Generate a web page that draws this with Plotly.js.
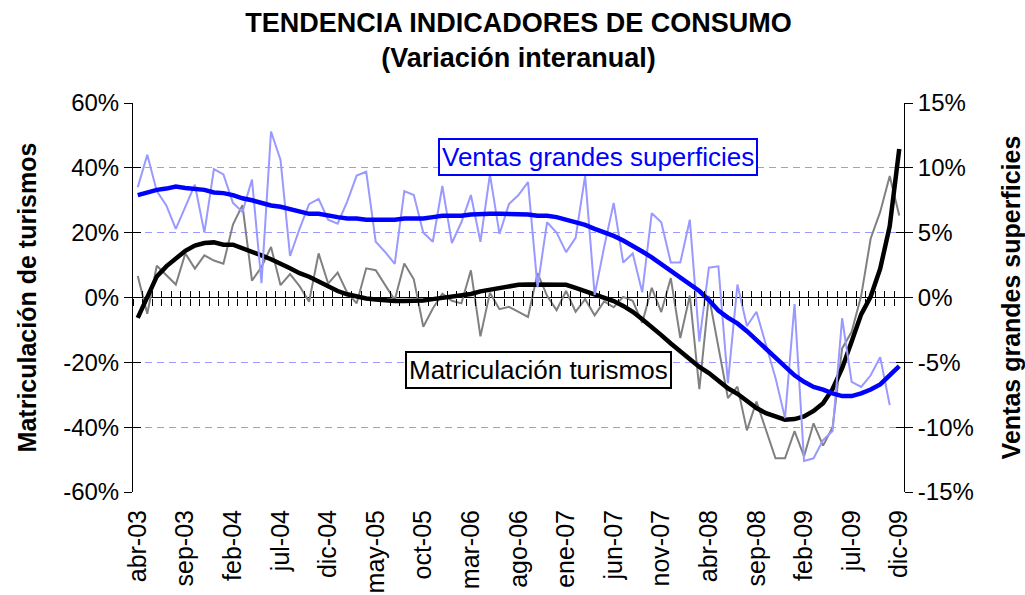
<!DOCTYPE html>
<html><head><meta charset="utf-8">
<script src="https://cdn.plot.ly/plotly-3.0.1.min.js"></script>
<style>html,body{margin:0;padding:0;background:#fff}#chart{width:1025px;height:595px}</style>
</head><body><div id="chart"></div>
<script>
const months = ["abr-03","may-03","jun-03","jul-03","ago-03","sep-03","oct-03","nov-03","dic-03",
"ene-04","feb-04","mar-04","abr-04","may-04","jun-04","jul-04","ago-04","sep-04","oct-04","nov-04","dic-04",
"ene-05","feb-05","mar-05","abr-05","may-05","jun-05","jul-05","ago-05","sep-05","oct-05","nov-05","dic-05",
"ene-06","feb-06","mar-06","abr-06","may-06","jun-06","jul-06","ago-06","sep-06","oct-06","nov-06","dic-06",
"ene-07","feb-07","mar-07","abr-07","may-07","jun-07","jul-07","ago-07","sep-07","oct-07","nov-07","dic-07",
"ene-08","feb-08","mar-08","abr-08","may-08","jun-08","jul-08","ago-08","sep-08","oct-08","nov-08","dic-08",
"ene-09","feb-09","mar-09","abr-09","may-09","jun-09","jul-09","ago-09","sep-09","oct-09","nov-09","dic-09"];

const tickLabels = ["abr-03","sep-03","feb-04","jul-04","dic-04","may-05","oct-05","mar-06","ago-06",
"ene-07","jun-07","nov-07","abr-08","sep-08","feb-09","jul-09","dic-09"];

// Matriculación turismos (left axis, %)
const matriculacion = [6.6,-5.0,9.8,6.9,4.0,13.6,8.9,13.0,11.4,10.4,22.5,28.5,5.2,9.4,15.6,3.8,7.2,3.5,-1.3,13.6,
4.3,7.7,1.5,-1.8,9.0,8.4,3.6,-0.8,10.5,5.6,-9.0,-3.4,1.2,-1.0,-1.8,8.4,-12.0,1.5,-3.6,-2.9,
-4.4,-6.0,7.5,0.5,-3.9,2.0,-4.4,-0.5,-5.5,-1.2,-3.0,0.2,-1.0,-7.8,3.0,-4.5,6.0,-12.5,0.6,-28.3,
0.5,-15.0,-31.0,-27.5,-41.0,-32.1,-41.0,-49.6,-49.6,-41.2,-49.0,-38.8,-45.7,-40.0,-15.7,-10.6,0.5,18.2,26.4,37.5,25.3];

const matriculacionTendencia = [-6.3,0.0,6.5,9.6,12.2,14.4,16.0,16.8,17.0,16.3,16.3,15.3,14.1,13.0,11.8,10.5,9.0,7.5,6.4,4.9,
3.5,2.0,1.0,0.3,-0.3,-0.6,-0.9,-1.1,-1.1,-1.1,-0.9,-0.5,-0.1,0.3,0.7,1.1,1.9,2.4,3.0,3.5,
3.9,4.0,4.0,4.0,4.0,3.9,3.0,2.0,1.2,0.2,-1.1,-2.6,-4.4,-6.7,-9.0,-11.6,-14.2,-16.7,-19.2,-21.4,
-23.3,-25.6,-28.0,-29.7,-31.9,-34.1,-35.7,-36.8,-37.7,-37.5,-36.7,-35.0,-32.6,-28.2,-21.8,-13.6,-5.2,0.3,8.9,22.0,45.8];

// Ventas grandes superficies (right axis, %)
const ventas = [8.5,11.0,8.2,7.1,5.3,7.0,8.7,5.0,9.9,9.5,7.3,6.6,9.1,1.1,12.8,10.6,3.2,5.3,7.2,7.6,
6.0,5.7,7.4,9.4,9.7,4.3,3.5,2.6,8.2,7.9,5.0,4.3,8.6,4.2,5.8,7.9,4.3,9.5,4.9,7.2,
7.9,8.9,0.8,5.8,5.0,3.5,4.6,9.4,0.2,3.9,7.3,2.7,3.4,0.4,6.5,5.8,2.7,2.7,6.0,-3.4,
2.3,2.4,-6.6,1.0,-2.2,-1.1,-3.6,-6.2,-9.3,-0.5,-12.6,-12.4,-11.0,-10.3,-1.6,-6.5,-6.9,-6.0,-4.6,-8.3,null];

const ventasTendencia = [7.9,8.1,8.3,8.4,8.55,8.45,8.4,8.3,8.1,8.05,7.9,7.65,7.5,7.3,7.1,7.0,6.8,6.6,6.45,6.45,
6.3,6.2,6.1,6.1,6.0,6.0,6.0,6.0,6.1,6.1,6.1,6.2,6.3,6.3,6.3,6.4,6.45,6.45,6.45,6.45,
6.45,6.4,6.3,6.3,6.2,6.0,5.8,5.6,5.3,5.05,4.75,4.4,4.0,3.55,3.1,2.6,2.1,1.6,1.1,0.5,
-0.2,-1.0,-1.55,-2.0,-2.6,-3.3,-3.9,-4.7,-5.3,-6.0,-6.5,-6.9,-7.1,-7.4,-7.6,-7.6,-7.4,-7.1,-6.7,-6.0,-5.3];

const leftTicks = [-60,-40,-20,0,20,40,60];
const leftTickText = ["-60%","-40%","-20%","0%","20%","40%","60%"];
const rightTicks = [-15,-10,-5,0,5,10,15];
const rightTickText = ["-15%","-10%","-5%","0%","5%","10%","15%"];

const FONT = "Liberation Sans, Arial, sans-serif";

const traces = [
  {x: months, y: ventas, type: 'scatter', mode: 'lines', yaxis: 'y2', xaxis: 'x',
   line: {color: '#9999ff', width: 2}, connectgaps: false, hoverinfo: 'skip'},
  {x: months, y: matriculacion, type: 'scatter', mode: 'lines', yaxis: 'y', xaxis: 'x',
   line: {color: '#808080', width: 2}, hoverinfo: 'skip'},
  {x: months, y: ventasTendencia, type: 'scatter', mode: 'lines', yaxis: 'y2', xaxis: 'x',
   line: {color: '#0000ff', width: 4.5}, hoverinfo: 'skip'},
  {x: months, y: matriculacionTendencia, type: 'scatter', mode: 'lines', yaxis: 'y', xaxis: 'x',
   line: {color: '#000000', width: 4.5}, hoverinfo: 'skip'},
  // empty helper traces so that the tick-only overlay axes are drawn
  {x: [null], y: [null], xaxis: 'x2', yaxis: 'y', type: 'scatter', mode: 'lines', hoverinfo: 'skip'},
  {x: [null], y: [null], xaxis: 'x3', yaxis: 'y', type: 'scatter', mode: 'lines', hoverinfo: 'skip'},
  {x: [null], y: [null], xaxis: 'x', yaxis: 'y3', type: 'scatter', mode: 'lines', hoverinfo: 'skip'},
  {x: [null], y: [null], xaxis: 'x', yaxis: 'y4', type: 'scatter', mode: 'lines', hoverinfo: 'skip'}
];

const tickAxisBase = {
  overlaying: 'x', anchor: 'free', position: 0.5, type: 'linear',
  range: [-0.5, months.length - 0.5], tickmode: 'linear', tick0: 0.5, dtick: 1,
  ticklen: 7, tickwidth: 1, tickcolor: '#000', showticklabels: false,
  showgrid: false, zeroline: false, showline: false
};

const layout = {
  width: 1025, height: 595,
  margin: {l: 133, r: 121, t: 103, b: 103},
  paper_bgcolor: '#fff', plot_bgcolor: '#fff',
  showlegend: false,
  font: {family: FONT, size: 22, color: '#000'},
  title: {
    text: 'TENDENCIA INDICADORES DE CONSUMO<br>(Variación interanual)',
    font: {family: FONT, size: 27, weight: 700, color: '#000'},
    x: 0.5, xref: 'paper', y: 0.946, yref: 'container', yanchor: 'top'
  },
  xaxis: {
    type: 'category', categoryorder: 'array', categoryarray: months,
    range: [-0.5, months.length - 0.5],
    tickmode: 'array', tickvals: tickLabels, ticktext: tickLabels,
    tickangle: -90, ticks: '', showgrid: false, zeroline: false, showline: false,
    ticklabelstandoff: 12,
    tickfont: {family: FONT, size: 25, color: '#000'}
  },
  xaxis2: Object.assign({}, tickAxisBase, {ticks: 'outside'}),
  xaxis3: Object.assign({}, tickAxisBase, {ticks: 'inside'}),
  yaxis: {
    range: [-60, 60], tickmode: 'array', tickvals: leftTicks, ticktext: leftTickText,
    ticks: 'outside', ticklen: 8, tickwidth: 1, tickcolor: '#000',
    showline: true, linecolor: '#000', linewidth: 1,
    showgrid: true, gridcolor: '#9999ff', gridwidth: 1, griddash: '7px,5px',
    zeroline: true, zerolinecolor: '#000', zerolinewidth: 1,
    tickfont: {family: FONT, size: 24, color: '#000'},
    title: {text: 'Matriculación de turismos', font: {family: FONT, size: 25, weight: 700, color: '#000'}, standoff: 19}
  },
  yaxis2: {
    overlaying: 'y', side: 'right', anchor: 'x',
    range: [-15, 15], tickmode: 'array', tickvals: rightTicks, ticktext: rightTickText,
    ticks: 'outside', ticklen: 8, tickwidth: 1, tickcolor: '#000',
    showline: true, linecolor: '#000', linewidth: 1,
    showgrid: false, zeroline: false,
    tickfont: {family: FONT, size: 24, color: '#000'},
    title: {text: 'Ventas grandes superficies', font: {family: FONT, size: 25, weight: 700, color: '#000'}, standoff: 29}
  },
  yaxis3: {
    overlaying: 'y', side: 'left', anchor: 'x', range: [-60, 60],
    tickmode: 'array', tickvals: leftTicks, ticks: 'inside', ticklen: 8, tickwidth: 1, tickcolor: '#000',
    showticklabels: false, showgrid: false, zeroline: false, showline: false
  },
  yaxis4: {
    overlaying: 'y', side: 'right', anchor: 'x', range: [-60, 60],
    tickmode: 'array', tickvals: leftTicks, ticks: 'inside', ticklen: 8, tickwidth: 1, tickcolor: '#000',
    showticklabels: false, showgrid: false, zeroline: false, showline: false
  },
  annotations: [
    {text: 'Ventas grandes superficies', xref: 'paper', yref: 'paper', x: 0.6035, y: 0.862,
     xanchor: 'center', yanchor: 'middle',
     showarrow: false, font: {family: FONT, size: 26, color: '#0000ff'},
     bordercolor: '#0000ff', borderwidth: 2, borderpad: 2, bgcolor: '#fff'},
    {text: 'Matriculación turismos', xref: 'paper', yref: 'paper', x: 0.5256, y: 0.3136,
     xanchor: 'center', yanchor: 'middle',
     showarrow: false, font: {family: FONT, size: 26, color: '#000'},
     bordercolor: '#000', borderwidth: 2, borderpad: 2, bgcolor: '#fff'}
  ]
};

Plotly.newPlot('chart', traces, layout, {staticPlot: true, displayModeBar: false});
</script>
</body></html>
